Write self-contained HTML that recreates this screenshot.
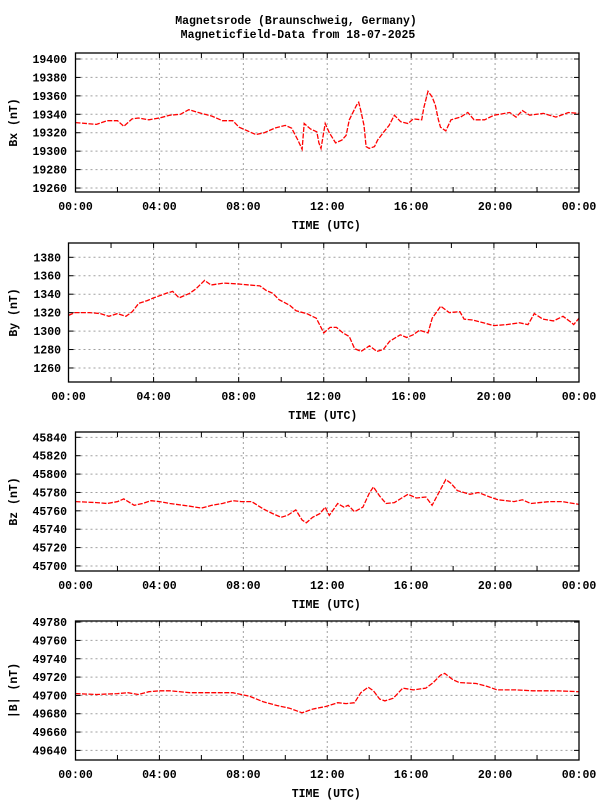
<!DOCTYPE html>
<html><head><meta charset="utf-8"><style>
html,body{margin:0;padding:0;background:#fff;}
svg text{font-family:"Liberation Mono","DejaVu Sans Mono",monospace;font-weight:bold;font-size:11.5px;fill:#000;}
</style></head><body>
<svg id="chart" width="600" height="800" viewBox="0 0 600 800" xmlns="http://www.w3.org/2000/svg">
<rect width="600" height="800" fill="#fff"/>
<text x="296" y="24" text-anchor="middle">Magnetsrode (Braunschweig, Germany)</text>
<text x="298" y="38" text-anchor="middle">Magneticfield-Data from 18-07-2025</text>
</svg>
<script>
const xTickLabels=["00:00","04:00","08:00","12:00","16:00","20:00","00:00"];
const bxTicks=[19260,19280,19300,19320,19340,19360,19380,19400];
const byTicks=[1260,1280,1300,1320,1340,1360,1380];
const bzTicks=[45700,45720,45740,45760,45780,45800,45820,45840];
const bTicks=[49640,49660,49680,49700,49720,49740,49760,49780];
const bxHours=[0,1,1.5,2,2.3,2.7,3,3.5,4,4.5,5,5.4,6,6.5,7,7.5,7.8,8.2,8.6,9,9.5,10,10.3,10.6,10.8,10.9,11.2,11.5,11.6,11.7,11.9,12.1,12.4,12.7,12.9,13.05,13.4,13.5,13.6,13.75,13.85,14,14.25,14.4,14.7,14.95,15.2,15.5,15.85,16.1,16.5,16.6,16.8,17,17.15,17.3,17.4,17.65,17.9,18.35,18.7,19,19.5,19.95,20.7,21,21.3,21.65,22.3,22.9,23.5,24];
const bxValues=[19331,19329,19333,19333,19327,19335,19336,19334,19336,19339,19340,19345,19341,19338,19333,19333,19326,19322,19318,19320,19325,19328,19325,19312,19302,19330,19324,19321,19309,19303,19330,19320,19309,19312,19317,19334,19350,19353,19344,19328,19305,19303,19305,19312,19321,19328,19339,19332,19330,19335,19334,19347,19365,19359,19350,19334,19326,19322,19334,19337,19342,19334,19334,19339,19342,19337,19344,19339,19341,19337,19342,19341];
const byHours=[0,0.3,1,1.5,1.9,2.3,2.7,3,3.3,3.7,4,4.6,4.9,5.2,5.7,6,6.4,6.7,7.3,8,8.5,9,9.3,9.6,9.9,10.4,10.7,11.2,11.65,12,12.3,12.6,12.9,13.2,13.45,13.75,14.15,14.5,14.8,15.1,15.6,15.9,16.2,16.5,16.9,17.1,17.5,17.9,18.4,18.6,19,19.5,20,20.6,21.2,21.6,21.9,22.3,22.8,23.25,23.6,23.75,24];
const byValues=[1317,1320,1320,1319,1316,1319,1316,1321,1330,1333,1336,1341,1343,1336,1341,1346,1355,1350,1352,1351,1350,1349,1344,1341,1334,1328,1322,1319,1314,1298,1304,1304,1298,1294,1281,1278,1284,1278,1280,1289,1296,1293,1296,1301,1298,1314,1327,1320,1321,1313,1312,1309,1306,1307,1309,1307,1319,1313,1311,1316,1310,1307,1314];
const bzHours=[0,1,1.5,2,2.3,2.8,3.2,3.6,4,4.5,5.45,6,6.5,7,7.5,7.9,8.4,8.95,9.4,9.8,10.1,10.5,10.8,11,11.3,11.65,11.9,12.1,12.5,12.8,13,13.3,13.7,14,14.2,14.5,14.8,15.2,15.55,15.85,16.25,16.7,17,17.3,17.65,17.9,18.2,18.8,19.2,19.75,20.15,20.9,21.3,21.7,22.6,23.2,24];
const bzValues=[45770,45769,45768,45770,45773,45766,45768,45771,45770,45768,45765,45763,45766,45768,45771,45770,45770,45762,45757,45753,45755,45761,45750,45747,45753,45757,45764,45755,45768,45764,45766,45759,45764,45779,45786,45776,45768,45769,45774,45778,45774,45775,45766,45779,45794,45790,45782,45778,45780,45775,45772,45770,45772,45768,45770,45770,45767];
const bHours=[0,1,2,2.5,3,3.5,4,4.5,5.45,6.7,7.5,7.9,8.3,8.95,9.6,10.2,10.8,11.3,11.95,12.5,12.9,13.3,13.6,13.95,14.2,14.5,14.75,15.15,15.6,16.1,16.7,17.05,17.4,17.6,18,18.3,19.1,19.6,20.1,21,21.8,22.9,24];
const bValues=[49702,49701,49702,49703,49701,49704,49705,49705,49703,49703,49703,49701,49699,49693,49689,49686,49681,49685,49688,49692,49691,49692,49703,49709,49705,49696,49694,49697,49708,49706,49708,49714,49722,49724,49717,49714,49713,49710,49706,49706,49705,49705,49704];

const svg=document.getElementById('chart');
const NS='http://www.w3.org/2000/svg';
function mk(tag,attrs,parent){const e=document.createElementNS(NS,tag);for(const k in attrs)e.setAttribute(k,attrs[k]);(parent||svg).appendChild(e);return e;}

const panels=[
 {key:'bx',label:'Bx (nT)',ticks:bxTicks,hours:bxHours,vals:bxValues,L:75.5,R:579,T:53,B:192,yTop:19406.5,yBot:19255.7,labX:67},
 {key:'by',label:'By (nT)',ticks:byTicks,hours:byHours,vals:byValues,L:68.5,R:579,T:243,B:382,yTop:1395.5,yBot:1244.8,labX:61},
 {key:'bz',label:'Bz (nT)',ticks:bzTicks,hours:bzHours,vals:bzValues,L:75.5,R:579,T:432,B:571,yTop:45845.8,yBot:45694.5,labX:67},
 {key:'b-total',label:'|B| (nT)',ticks:bTicks,hours:bHours,vals:bValues,L:75.5,R:579,T:621,B:760,yTop:49781.2,yBot:49629.5,labX:67}
];

panels.forEach(p=>{
 const g=mk('g',{});
 
 
 const xs=h=>p.L+(p.R-p.L)*h/24;
 const ys=v=>p.T+(p.yTop-v)/(p.yTop-p.yBot)*(p.B-p.T);
 for(let h=4;h<24;h+=4){
  const l=mk('line',{x1:xs(h),x2:xs(h),y1:p.T,y2:p.B,stroke:'#a0a0a0','stroke-width':1,'stroke-dasharray':'2,3'},g);
  
  
 }
 p.ticks.forEach(v=>{
  const y=ys(v);
  if(y>p.T+1&&y<p.B-1){
   const l=mk('line',{x1:p.L,x2:p.R,y1:y,y2:y,stroke:'#a0a0a0','stroke-width':1,'stroke-dasharray':'2,3'},g);
   
   
  }
  mk('line',{x1:p.L,x2:p.L+5,y1:y,y2:y,stroke:'#000'},g);
  mk('line',{x1:p.R-5,x2:p.R,y1:y,y2:y,stroke:'#000'},g);
  const t=mk('text',{x:p.labX,y:y+4,'text-anchor':'end'},g);
  t.textContent=v;
  
  
 });
 for(let h=2;h<24;h+=2){
  mk('line',{x1:xs(h),x2:xs(h),y1:p.B,y2:p.B-5,stroke:'#000'},g);
  mk('line',{x1:xs(h),x2:xs(h),y1:p.T,y2:p.T+5,stroke:'#000'},g);
 }
 xTickLabels.forEach((s,i)=>{
  const t=mk('text',{x:xs(i*4),y:p.B+18,'text-anchor':'middle'},g);
  t.textContent=s;
  
  
 });
 const xt=mk('text',{x:(p.L+p.R)/2-1,y:p.B+37,'text-anchor':'middle'},g);
 xt.textContent='TIME (UTC)';
 
 
 const cy=(p.T+p.B)/2;
 const yt=mk('text',{x:17,y:cy,'text-anchor':'middle',transform:'rotate(-90 17 '+cy+')'},g);
 yt.textContent=p.label;
 
 
 const pts=p.hours.map((h,i)=>xs(h).toFixed(1)+','+ys(p.vals[i]).toFixed(1)).join(' ');
 const pl=mk('polyline',{points:pts,fill:'none',stroke:'#ff0000','stroke-width':1.3,'stroke-dasharray':'5,1.5'},g);
 
 
 const fr=mk('rect',{x:p.L,y:p.T,width:p.R-p.L,height:p.B-p.T,fill:'none',stroke:'#000','stroke-width':1.3},g);
 
 
});
</script>
</body></html>
